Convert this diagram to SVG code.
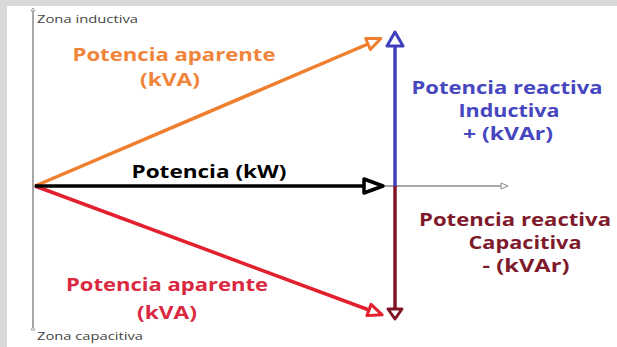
<svg xmlns="http://www.w3.org/2000/svg" width="617" height="347" viewBox="0 0 617 347">
<style>
text{font-family:"Open Sans","DejaVu Sans",sans-serif;font-weight:bold;text-anchor:middle}
.lbl{font-size:18px}
.zone{font-size:10px;font-weight:normal;fill:#444;text-anchor:start}
.vec{fill:none;stroke-width:3.5}
.axis{fill:none;stroke:#8a8a8a;stroke-width:1.5}
</style>
<defs>
<marker id="mOrange" markerUnits="userSpaceOnUse" viewBox="-2 -9 20 18" refX="0" refY="0" markerWidth="20" markerHeight="18" orient="auto"><path d="M0,-6 L14,0 L0,6 Z" fill="#fff" stroke="#ef7f2e" stroke-width="3" stroke-linejoin="round"/></marker>
<marker id="mRed" markerUnits="userSpaceOnUse" viewBox="-2 -9 20 18" refX="0" refY="0" markerWidth="20" markerHeight="18" orient="auto"><path d="M0,-6 L14,0 L0,6 Z" fill="#fff" stroke="#e2202e" stroke-width="3" stroke-linejoin="round"/></marker>
<marker id="mBlack" markerUnits="userSpaceOnUse" viewBox="-2 -10 26 20" refX="0" refY="0" markerWidth="26" markerHeight="20" orient="auto"><path d="M0,-7 L19,0 L0,7 Z" fill="#fff" stroke="#000" stroke-width="3.5" stroke-linejoin="round"/></marker>
<marker id="mBlue" markerUnits="userSpaceOnUse" viewBox="-2 -10 20 20" refX="0" refY="0" markerWidth="20" markerHeight="20" orient="auto"><path d="M0,-8 L14,0 L0,8 Z" fill="#fff" stroke="#3e3ebf" stroke-width="3" stroke-linejoin="round"/></marker>
<marker id="mDark" markerUnits="userSpaceOnUse" viewBox="-2 -10 16 20" refX="0" refY="0" markerWidth="16" markerHeight="20" orient="auto"><path d="M0,-7 L10,0 L0,7 Z" fill="#fff" stroke="#7e1425" stroke-width="3" stroke-linejoin="round"/></marker>
<marker id="mAxis" markerUnits="userSpaceOnUse" viewBox="-1 -5 10 10" refX="0" refY="0" markerWidth="10" markerHeight="10" orient="auto"><path d="M0,-3 L7,0 L0,3 Z" fill="#fff" stroke="#8a8a8a" stroke-width="1"/></marker>
<marker id="mTiny" markerUnits="userSpaceOnUse" viewBox="-1 -3 6 6" refX="0" refY="0" markerWidth="6" markerHeight="6" orient="auto"><path d="M0,-2 L3,0 L0,2 Z" fill="#fff" stroke="#8a8a8a" stroke-width="0.8"/></marker>
</defs>
<rect x="0" y="0" width="617" height="347" fill="#d9d9d9"/>
<rect x="7" y="6" width="610" height="341" fill="#fff"/>
<g id="connectors">
<line class="axis" x1="33" y1="330" x2="33" y2="11" marker-end="url(#mTiny)" marker-start="url(#mTiny)"/>
<line class="axis" x1="33" y1="186" x2="501" y2="186" marker-end="url(#mAxis)"/>
<line class="vec" stroke="#ef7f2e" x1="35" y1="186" x2="368" y2="44" marker-end="url(#mOrange)"/>
<line class="vec" stroke="#e2202e" x1="35" y1="186" x2="369" y2="310" marker-end="url(#mRed)"/>
<line class="vec" stroke="#3e3ebf" x1="395" y1="186" x2="395" y2="46" marker-end="url(#mBlue)"/>
<line class="vec" stroke="#7e1425" x1="395" y1="186" x2="395" y2="309" marker-end="url(#mDark)"/>
<line class="vec" stroke="#000" x1="35" y1="186" x2="364" y2="186" marker-end="url(#mBlack)"/>
</g>
<g id="zona-inductiva"><text class="zone" x="37" y="23" textLength="101" lengthAdjust="spacingAndGlyphs">Zona inductiva</text></g>
<g id="zona-capacitiva"><text class="zone" x="37" y="340" textLength="106" lengthAdjust="spacingAndGlyphs">Zona capacitiva</text></g>
<g id="aparente-inductiva"><text class="lbl" fill="#f0843a" x="174" y="61" textLength="203" lengthAdjust="spacingAndGlyphs">Potencia aparente</text><text class="lbl" fill="#f0843a" x="170" y="86" textLength="60" lengthAdjust="spacingAndGlyphs">(kVA)</text></g>
<g id="potencia-activa"><text class="lbl" fill="#000" x="209" y="178" textLength="155" lengthAdjust="spacingAndGlyphs">Potencia (kW)</text></g>
<g id="reactiva-inductiva"><text class="lbl" fill="#4646c0" x="507" y="94" textLength="191" lengthAdjust="spacingAndGlyphs">Potencia reactiva</text><text class="lbl" fill="#4646c0" x="509" y="117" textLength="101" lengthAdjust="spacingAndGlyphs">Inductiva</text><text class="lbl" fill="#4646c0" x="508" y="140" textLength="90" lengthAdjust="spacingAndGlyphs">+ (kVAr)</text></g>
<g id="reactiva-capacitiva"><text class="lbl" fill="#7e1a2c" x="515" y="226" textLength="192" lengthAdjust="spacingAndGlyphs">Potencia reactiva</text><text class="lbl" fill="#7e1a2c" x="525" y="249" textLength="113" lengthAdjust="spacingAndGlyphs">Capacitiva</text><text class="lbl" fill="#7e1a2c" x="526" y="272" textLength="87" lengthAdjust="spacingAndGlyphs">- (kVAr)</text></g>
<g id="aparente-capacitiva"><text class="lbl" fill="#d9283f" x="167" y="291" textLength="202" lengthAdjust="spacingAndGlyphs">Potencia aparente</text><text class="lbl" fill="#d9283f" x="167" y="319" textLength="60" lengthAdjust="spacingAndGlyphs">(kVA)</text></g>
</svg>
